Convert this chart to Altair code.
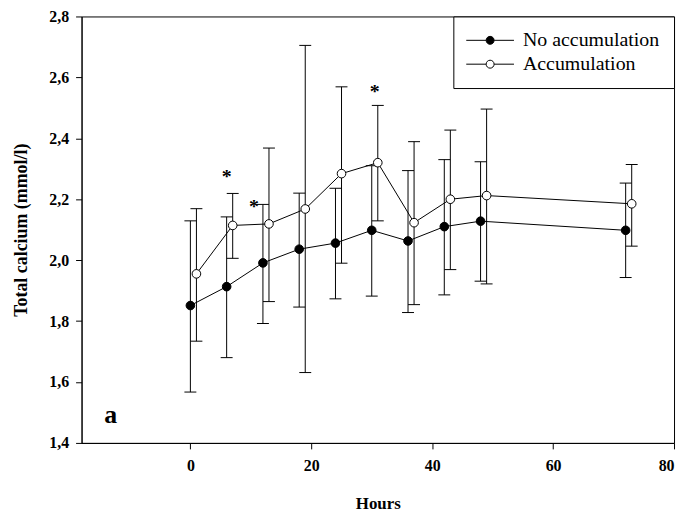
import altair as alt
import pandas as pd

# ---- data ----
series_names = ["No accumulation", "Accumulation"]

t_no = [0, 6, 12, 18, 24, 30, 36, 42, 48, 72]
mean_no = [1.851, 1.913, 1.991, 2.036, 2.056, 2.098, 2.063, 2.110, 2.128, 2.098]
hi_no = [2.129, 2.142, 2.183, 2.220, 2.236, 2.310, 2.294, 2.330, 2.323, 2.253]
lo_no = [1.567, 1.680, 1.792, 1.846, 1.873, 1.882, 1.828, 1.886, 1.931, 1.943]

t_acc = [1, 7, 13, 19, 25, 31, 37, 43, 49, 73]
mean_acc = [1.955, 2.114, 2.119, 2.168, 2.284, 2.320, 2.123, 2.200, 2.212, 2.185]
hi_acc = [2.169, 2.219, 2.368, 2.705, 2.569, 2.508, 2.389, 2.427, 2.496, 2.314]
lo_acc = [1.734, 2.006, 1.864, 1.631, 1.990, 2.129, 1.854, 1.969, 1.922, 2.046]

star_t = [6.0, 10.5, 30.5]
star_y = [2.278, 2.180, 2.557]

panel_label = ["a"]
panel_t = [-13.2]
panel_y = [1.49]

x_ticks = [0, 20, 40, 60, 80]
y_ticks = [1.4, 1.6, 1.8, 2.0, 2.2, 2.4, 2.6, 2.8]

rows = []
for t, m, lo, hi in zip(t_no, mean_no, lo_no, hi_no):
    rows.append(dict(series=series_names[0], t=t, mean=m, lo=lo, hi=hi))
for t, m, lo, hi in zip(t_acc, mean_acc, lo_acc, hi_acc):
    rows.append(dict(series=series_names[1], t=t, mean=m, lo=lo, hi=hi))
df = pd.DataFrame(rows)

stars = pd.DataFrame({"t": star_t, "y": star_y, "txt": ["*"] * len(star_t)})
panel = pd.DataFrame({"t": panel_t, "y": panel_y, "txt": panel_label})

FONT = "Liberation Serif"
xscale = alt.Scale(domain=[-18, 80], nice=False, zero=False)
yscale = alt.Scale(domain=[1.4, 2.8], nice=False, zero=False)

x_axis = alt.Axis(values=x_ticks, format="d", grid=False,
                  labelFont=FONT, labelFontSize=16, labelFontWeight="bold",
                  labelColor="black", labelPadding=9, tickSize=6,
                  titleFont=FONT, titleFontSize=17, titleFontWeight="bold",
                  titleColor="black", titlePadding=22,
                  domainColor="black", tickColor="black")
y_axis = alt.Axis(values=y_ticks, grid=False,
                  labelExpr="replace(format(datum.value, '.1f'), '.', ',')",
                  labelFont=FONT, labelFontSize=16, labelFontWeight="bold",
                  labelColor="black", labelPadding=7, tickSize=6,
                  titleFont=FONT, titleFontSize=18, titleFontWeight="bold",
                  titleColor="black", titlePadding=18,
                  domainColor="black", tickColor="black")

XT = "Hours"
YT = "Total calcium (mmol/l)"


def X():
    return alt.X("t:Q", scale=xscale, axis=x_axis, title=XT)


def Y(field):
    return alt.Y(field, scale=yscale, axis=y_axis, title=YT)


line = alt.Chart(df).mark_line(color="black", strokeWidth=1).encode(
    x=X(), y=Y("mean:Q"), detail="series:N", order=alt.Order("t:Q")
)

err = alt.Chart(df).mark_rule(color="black", strokeWidth=1).encode(
    x=X(), y=Y("lo:Q"), y2="hi:Q"
)
cap_hi = alt.Chart(df).mark_rule(color="black", strokeWidth=1, xOffset=-6, x2Offset=6).encode(
    x=X(), x2="t:Q", y=Y("hi:Q")
)
cap_lo = alt.Chart(df).mark_rule(color="black", strokeWidth=1, xOffset=-6, x2Offset=6).encode(
    x=X(), x2="t:Q", y=Y("lo:Q")
)

legend_symbol = "M-3,0H-0.5M0.5,0H3M-0.5,0A0.5,0.5 0 1,0 0.5,0A0.5,0.5 0 1,0 -0.5,0Z"

points = alt.Chart(df).mark_point(
    filled=True, size=75, stroke="black", strokeWidth=1, opacity=1
).encode(
    x=X(),
    y=Y("mean:Q"),
    fill=alt.Fill(
        "series:N",
        scale=alt.Scale(domain=series_names, range=["black", "white"]),
        legend=alt.Legend(
            title=None, orient="none", legendX=374, legendY=0,
            strokeColor="black", padding=14, fillColor="white",
            labelFont=FONT, labelFontSize=20, labelColor="black",
            labelOffset=23, rowPadding=4, symbolOffset=13, labelLimit=300,
            symbolType=legend_symbol, symbolSize=256,
            symbolStrokeColor="black", symbolStrokeWidth=1, symbolOpacity=1,
        ),
    ),
)

star_layer = alt.Chart(stars).mark_text(
    font=FONT, fontSize=20, fontWeight="bold", color="black",
    baseline="alphabetic", dy=8
).encode(x=X(), y=Y("y:Q"), text="txt:N")

panel_layer = alt.Chart(panel).mark_text(
    font=FONT, fontSize=26, fontWeight="bold", color="black", baseline="middle"
).encode(x=X(), y=Y("y:Q"), text="txt:N")

chart = alt.layer(line, err, cap_hi, cap_lo, points, star_layer, panel_layer).properties(
    width=596, height=429,
    autosize=alt.AutoSizeParams(type="none"),
    padding={"left": 74, "top": 7, "right": 4, "bottom": 72},
    background="white",
).configure_view(stroke="black", strokeWidth=1)

chart.save("out.html", embed_options={"renderer": "svg", "actions": False})
